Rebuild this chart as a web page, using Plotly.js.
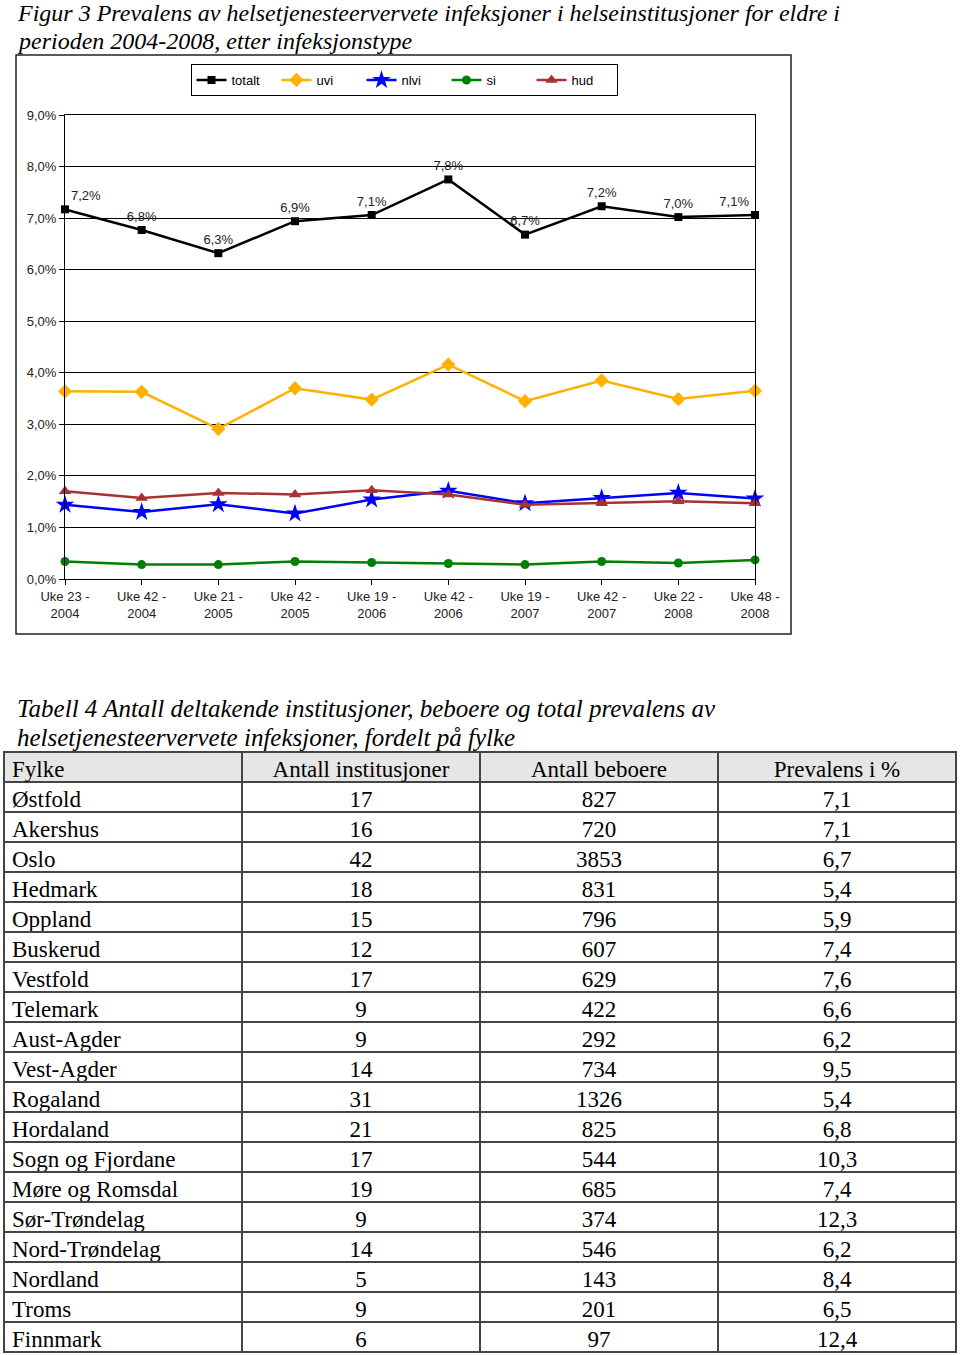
<!DOCTYPE html>
<html>
<head>
<meta charset="utf-8">
<script src="https://cdn.plot.ly/plotly-3.0.1.min.js"></script>
<style>
html,body{margin:0;padding:0;background:#fff;}
#chart{width:960px;height:1355px;}
</style>
</head>
<body>
<div id="chart"></div>
<script>
// ---- chart data ----
const periods = ['Uke 23 -<br>2004','Uke 42 -<br>2004','Uke 21 -<br>2005','Uke 42 -<br>2005','Uke 19 -<br>2006','Uke 42 -<br>2006','Uke 19 -<br>2007','Uke 42 -<br>2007','Uke 22 -<br>2008','Uke 48 -<br>2008'];
const totalt = [7.17, 6.77, 6.32, 6.94, 7.06, 7.75, 6.68, 7.23, 7.02, 7.06];
const uvi    = [3.64, 3.63, 2.91, 3.70, 3.48, 4.16, 3.45, 3.85, 3.49, 3.65];
const nlvi   = [1.44, 1.30, 1.45, 1.27, 1.54, 1.71, 1.47, 1.57, 1.67, 1.56];
const si     = [0.34, 0.28, 0.28, 0.34, 0.32, 0.30, 0.28, 0.34, 0.31, 0.37];
const hud    = [1.70, 1.57, 1.67, 1.64, 1.72, 1.64, 1.44, 1.47, 1.51, 1.47];
const yTicks = [0,1,2,3,4,5,6,7,8,9];
const yTickText = ['0,0%','1,0%','2,0%','3,0%','4,0%','5,0%','6,0%','7,0%','8,0%','9,0%'];

// ---- table data ----
const tableHeader = ['Fylke','Antall institusjoner','Antall beboere','Prevalens i %'];
const fylke = ['Østfold','Akershus','Oslo','Hedmark','Oppland','Buskerud','Vestfold','Telemark','Aust-Agder','Vest-Agder','Rogaland','Hordaland','Sogn og Fjordane','Møre og Romsdal','Sør-Trøndelag','Nord-Trøndelag','Nordland','Troms','Finnmark'];
const institusjoner = [17,16,42,18,15,12,17,9,9,14,31,21,17,19,9,14,5,9,6];
const beboere = [827,720,3853,831,796,607,629,422,292,734,1326,825,544,685,374,546,143,201,97];
const prevalens = ['7,1','7,1','6,7','5,4','5,9','7,4','7,6','6,6','6,2','9,5','5,4','6,8','10,3','7,4','12,3','6,2','8,4','6,5','12,4'];

const figTitleLines = ['Figur 3 Prevalens av helsetjenesteervervete infeksjoner i helseinstitusjoner for eldre i', 'perioden 2004-2008, etter infeksjonstype'];
const tabTitleLines = ['Tabell 4 Antall deltakende institusjoner, beboere og total prevalens av', 'helsetjenesteervervete infeksjoner, fordelt på fylke'];

const W = 960, H = 1355;
const px = x => x / W;
const py = y => 1 - y / H;

function series(name, y, color, symbol, size, extra) {
  return Object.assign({
    type: 'scatter', mode: 'lines+markers', name: name,
    x: periods, y: y, cliponaxis: false,
    line: {color: color, width: 2.5},
    marker: {color: color, symbol: symbol, size: size},
    xaxis: 'x', yaxis: 'y'
  }, extra || {});
}

const labelPos = periods.map((p, i) => i === 0 ? 'top right' : (i === periods.length - 1 ? 'top left' : 'top center'));

const data = [
  series('totalt', totalt, '#000000', 'square', 8, {
    mode: 'lines+markers+text',
    texttemplate: '%{y:.1f}%', textposition: labelPos,
    textfont: {family: 'Liberation Sans, Arial', size: 13, color: '#222'}
  }),
  series('uvi', uvi, '#FFB000', 'diamond', 11),
  series('nlvi', nlvi, '#0000FF', 'star', 14),
  series('si', si, '#008000', 'circle', 9),
  series('hud', hud, '#A83232', 'triangle-up', 11),
  {
    type: 'table',
    domain: {x: [px(4), px(956)], y: [py(1353), py(752)]},
    columnwidth: [1,1,1,1],
    header: {
      values: tableHeader,
      align: ['left','center','center','center'],
      height: 30,
      fill: {color: '#E6E6E6'},
      line: {color: '#444444', width: 1.5},
      font: {family: 'Liberation Serif, Times New Roman', size: 23, color: '#000'}
    },
    cells: {
      values: [fylke, institusjoner, beboere, prevalens],
      align: ['left','center','center','center'],
      height: 30,
      fill: {color: '#FFFFFF'},
      line: {color: '#444444', width: 1.5},
      font: {family: 'Liberation Serif, Times New Roman', size: 23, color: '#000'}
    }
  }
];

const annotations = [];
figTitleLines.forEach((t, i) => annotations.push({
  xref: 'paper', yref: 'paper', x: px(15), y: py(13 + i * 28), xanchor: 'left', yanchor: 'middle',
  text: '<i>' + t + '</i>', showarrow: false, align: 'left',
  font: {family: 'Liberation Serif, Times New Roman', size: 24, color: '#000'}
}));
tabTitleLines.forEach((t, i) => annotations.push({
  xref: 'paper', yref: 'paper', x: px(15), y: py(708 + i * 29), xanchor: 'left', yanchor: 'middle',
  text: '<i>' + t + '</i>', showarrow: false, align: 'left',
  font: {family: 'Liberation Serif, Times New Roman', size: 25, color: '#000'}
}));

const layout = {
  width: W, height: H,
  margin: {l: 0, r: 0, t: 0, b: 0},
  paper_bgcolor: '#fff', plot_bgcolor: '#fff',
  separators: ', ',
  showlegend: true,
  legend: {
    orientation: 'h', x: px(404), xanchor: 'center', y: py(64), yanchor: 'top',
    bordercolor: '#000', borderwidth: 1, bgcolor: '#fff',
    font: {family: 'Liberation Sans, Arial', size: 13, color: '#000'},
    entrywidth: 40, entrywidthmode: 'pixels', tracegroupgap: 0
  },
  xaxis: {
    domain: [px(65), px(755)],
    type: 'category', range: [0, 9],
    showgrid: false, showline: true, linecolor: '#000', linewidth: 1, mirror: true,
    ticks: 'outside', ticklen: 5, tickcolor: '#000',
    tickfont: {family: 'Liberation Sans, Arial', size: 13, color: '#222'},
    zeroline: false, fixedrange: true
  },
  yaxis: {
    domain: [py(579), py(115)],
    range: [0, 9], tickmode: 'array', tickvals: yTicks, ticktext: yTickText,
    showgrid: true, gridcolor: '#000', gridwidth: 1,
    showline: true, linecolor: '#000', linewidth: 1, mirror: true,
    ticks: 'outside', ticklen: 5, tickcolor: '#000',
    tickfont: {family: 'Liberation Sans, Arial', size: 13, color: '#222'},
    zeroline: false, fixedrange: true
  },
  shapes: [
    {type: 'rect', xref: 'paper', yref: 'paper', x0: px(16), x1: px(791), y0: py(634), y1: py(55),
     line: {color: '#222', width: 1.5}, fillcolor: 'rgba(0,0,0,0)', layer: 'below'}
  ],
  annotations: annotations
};

Plotly.newPlot('chart', data, layout, {displayModeBar: false, staticPlot: true});
</script>
</body>
</html>
